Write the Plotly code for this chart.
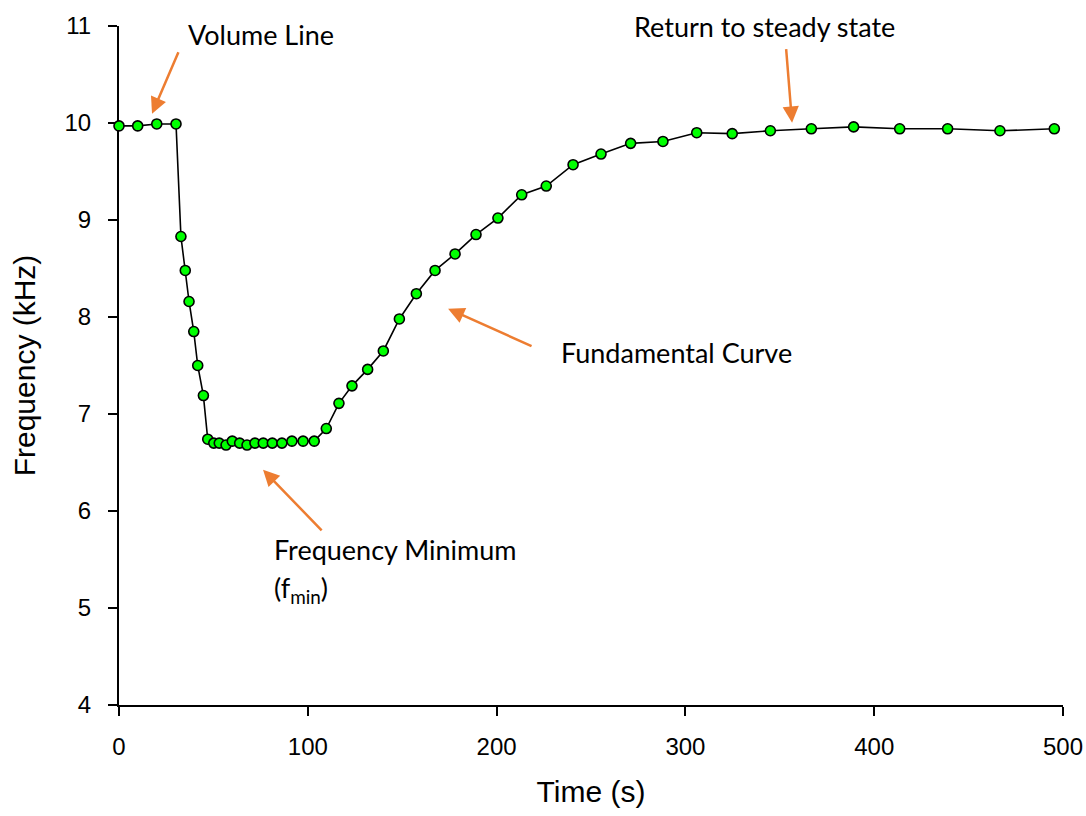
import plotly.graph_objects as go

# Measured resonance frequency over time
time_s = [0, 9.9, 20.0, 30.2, 32.8, 35.1, 37.1, 39.6, 41.7, 44.7,
          47.0, 50.2, 53.1, 56.7, 60.0, 63.9, 67.8, 72.0, 76.4, 81.2,
          86.3, 91.6, 97.5, 103.4, 109.8, 116.5, 123.4, 131.7, 140.0, 148.5,
          157.5, 167.4, 178.0, 189.1, 200.7, 213.3, 226.3, 240.5, 255.3, 271.0,
          288.1, 306.0, 324.8, 345.0, 366.7, 389.1, 413.5, 438.9, 466.6, 495.4]
freq_khz = [9.97, 9.97, 9.99, 9.99, 8.83, 8.48, 8.16, 7.85, 7.50, 7.19,
            6.74, 6.70, 6.70, 6.68, 6.72, 6.70, 6.68, 6.70, 6.70, 6.70,
            6.70, 6.72, 6.72, 6.72, 6.85, 7.11, 7.29, 7.46, 7.65, 7.98,
            8.24, 8.48, 8.65, 8.85, 9.02, 9.26, 9.35, 9.57, 9.68, 9.79,
            9.81, 9.90, 9.89, 9.92, 9.94, 9.96, 9.94, 9.94, 9.92, 9.94]

x_ticks = [0, 100, 200, 300, 400, 500]
y_ticks = [4, 5, 6, 7, 8, 9, 10, 11]

# Callout labels: text, left x, centre y
label_texts = ["Volume Line", "Return to steady state", "Fundamental Curve",
               "Frequency Minimum", "(f<sub>min</sub>)"]
label_x = [35.5, 271.5, 233.0, 81.0, 81.0]
label_y = [10.91, 10.99, 7.63, 5.60, 5.19]

# Arrow tails and heads in data units
arrow_tail_x = [31.8, 353.3, 219.3, 108.1]
arrow_tail_y = [10.745, 10.777, 7.693, 5.785]
arrow_head_x = [17.5, 356.5, 174.3, 76.3]
arrow_head_y = [10.096, 10.003, 8.085, 6.425]

ARROW = "#ED7D31"
LABEL_FONT = dict(family="Lato, 'Open Sans', sans-serif", size=27, color="black")
AXIS_FONT = "Liberation Sans, Arial, sans-serif"

fig = go.Figure()
fig.add_trace(go.Scatter(
    x=time_s, y=freq_khz, mode="lines+markers",
    line=dict(color="black", width=1.6),
    marker=dict(size=10, color="#00FF00", line=dict(color="black", width=1.6)),
    cliponaxis=False, showlegend=False, hoverinfo="skip",
))

annotations = []
for t, lx, ly in zip(label_texts, label_x, label_y):
    annotations.append(dict(
        x=lx, y=ly, xref="x", yref="y", text=t, showarrow=False,
        xanchor="left", yanchor="middle", font=LABEL_FONT,
    ))
for tx, ty, hx, hy in zip(arrow_tail_x, arrow_tail_y, arrow_head_x, arrow_head_y):
    annotations.append(dict(
        x=hx, y=hy, ax=tx, ay=ty, xref="x", yref="y", axref="x", ayref="y",
        text="", showarrow=True, arrowhead=2, arrowsize=1.3, arrowwidth=2.5,
        arrowcolor=ARROW, standoff=0,
    ))

fig.update_layout(
    width=1086, height=816,
    margin=dict(l=119, r=23, t=26, b=111),
    paper_bgcolor="white", plot_bgcolor="white",
    annotations=annotations,
    font=dict(family=AXIS_FONT, color="black"),
)
fig.update_xaxes(
    range=[0, 500], tickvals=x_ticks, ticktext=[str(v) for v in x_ticks],
    showgrid=False, zeroline=False, showline=True, linecolor="black", linewidth=2,
    ticks="outside", ticklen=9, tickwidth=1.5, tickcolor="black",
    tickfont=dict(size=24, family=AXIS_FONT), ticklabelstandoff=10,
    title=dict(text="Time (s)", font=dict(size=30, family=AXIS_FONT), standoff=22),
    automargin=False, layer="below traces",
)
fig.update_yaxes(
    range=[4, 11], tickvals=y_ticks, ticktext=[str(v) for v in y_ticks],
    showgrid=False, zeroline=False, showline=True, linecolor="black", linewidth=2,
    ticks="outside", ticklen=9, tickwidth=1.5, tickcolor="black",
    tickfont=dict(size=24, family=AXIS_FONT), ticklabelstandoff=12,
    title=dict(text="Frequency (kHz)", font=dict(size=30, family=AXIS_FONT), standoff=20),
    automargin=False, layer="below traces",
)

fig.write_html("out.html")
